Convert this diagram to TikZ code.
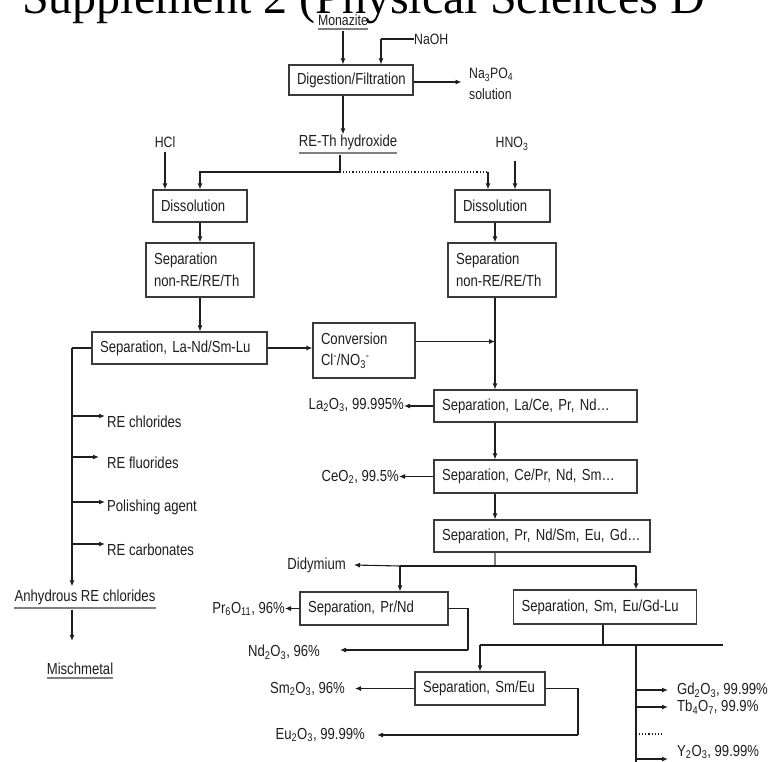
\documentclass[tikz,border=0pt]{standalone}
\usepackage{fontspec}
\setmainfont[FakeStretch=0.82]{Liberation Sans}
\newfontfamily\titlefont{Liberation Serif}
\usetikzlibrary{arrows.meta,calc}
\definecolor{ink}{HTML}{1E1E1E}
\definecolor{boxline}{HTML}{3A3A3A}
\begin{document}
\begin{tikzpicture}[x=1pt,y=-1pt,
  box/.style={draw=boxline, line width=1.1pt, fill=white, inner xsep=8pt, inner ysep=0pt,
    align=left, font=\fontsize{16}{21.5}\selectfont, text=ink, minimum height=33pt},
  lbl/.style={inner sep=0pt, font=\fontsize{16}{21.5}\selectfont, text=ink},
  sml/.style={inner sep=0pt, font=\fontsize{15}{21}\selectfont, text=ink},
  flow/.style={draw=ink, line width=1.1pt, -{Latex[length=6pt,width=5pt]}},
  bold flow/.style={flow, line width=2pt},
  link/.style={draw=ink, line width=1.1pt},
  ul/.style={draw=gray, line width=2pt}]
\useasboundingbox[fill=white] (0,0) rectangle (768,762);

% title (cut off at the top)
\node[anchor=base west, inner sep=0pt, font=\titlefont\fontsize{48}{50}\selectfont] (title) at (22,14) {Supplement 2 (Physical Sciences D};

% boxes
\node[box, text width=108pt, minimum height=30pt] (dig) at (351,80) {Digestion/Filtration};
\node[box, text width=78pt, minimum height=32pt] (dissL) at (200,206) {Dissolution};
\node[box, text width=79pt, minimum height=32pt] (dissR) at (502.5,206) {Dissolution};
\node[box, text width=92pt, minimum height=54pt] (sepL) at (200,270) {Separation\\non-RE/RE/Th};
\node[box, text width=92pt, minimum height=54pt] (sepR) at (502,270) {Separation\\non-RE/RE/Th};
\node[box, text width=159pt, minimum height=32pt] (lanl) at (179.5,348) {Separation, La-Nd/Sm-Lu};
\node[box, text width=86pt, minimum height=55pt] (conv) at (364,350.5) {Conversion\\Cl\textsuperscript{-}/NO\textsubscript{3}\textsuperscript{-}};
\node[box, text width=187pt, minimum height=32pt] (lace) at (535.5,406) {Separation, La/Ce, Pr, Nd\dots};
\node[box, text width=187pt] (cepr) at (535.5,476.5) {Separation, Ce/Pr, Nd, Sm\dots};
\node[box, text width=200pt, minimum height=32pt] (prnd) at (542,536) {Separation, Pr, Nd/Sm, Eu, Gd\dots};
\node[box, text width=132pt] (prndsep) at (374,608.5) {Separation, Pr/Nd};
\node[box, text width=167pt, minimum height=34pt] (smeu) at (605,607) {Separation, Sm, Eu/Gd-Lu};
\node[box, text width=114pt] (smeusep) at (480,688.5) {Separation, Sm/Eu};

% labels
\node[sml] (mon) at (343,20) {Monazite};
\node[sml, anchor=west] (naoh) at (414,39) {NaOH};
\node[sml, anchor=west, align=left] (na3) at (469,84) {Na\textsubscript{3}PO\textsubscript{4}\\solution};
\node[lbl] (hyd) at (348,142) {RE-Th hydroxide};
\node[sml] (hcl) at (165,142) {HCl};
\node[sml] (hno) at (512,144) {HNO\textsubscript{3}};
\node[lbl, anchor=east] (la) at (404,405) {La\textsubscript{2}O\textsubscript{3}, 99.995\%};
\node[lbl, anchor=east] (ce) at (399,477) {CeO\textsubscript{2}, 99.5\%};
\node[lbl, anchor=east] (did) at (346,565) {Didymium};
\node[lbl, anchor=east] (pr) at (285,609) {Pr\textsubscript{6}O\textsubscript{11}, 96\%};
\node[lbl, anchor=east] (nd) at (320,652) {Nd\textsubscript{2}O\textsubscript{3}, 96\%};
\node[lbl, anchor=east] (sm) at (345,689) {Sm\textsubscript{2}O\textsubscript{3}, 96\%};
\node[lbl, anchor=east] (eu) at (365,735) {Eu\textsubscript{2}O\textsubscript{3}, 99.99\%};
\node[lbl, anchor=west] (gd) at (677,690) {Gd\textsubscript{2}O\textsubscript{3}, 99.99\%};
\node[lbl, anchor=west] (tb) at (677,707) {Tb\textsubscript{4}O\textsubscript{7}, 99.9\%};
\node[lbl, anchor=west] (yo) at (677,752) {Y\textsubscript{2}O\textsubscript{3}, 99.99\%};
\node[lbl, anchor=west] (rcl) at (107,422) {RE chlorides};
\node[lbl, anchor=west] (rfl) at (107,463) {RE fluorides};
\node[lbl, anchor=west] (pol) at (107,507) {Polishing agent};
\node[lbl, anchor=west] (rca) at (107,550) {RE carbonates};
\node[lbl] (anh) at (85,597) {Anhydrous RE chlorides};
\node[lbl] (mis) at (80,669) {Mischmetal};

% underlines
\draw[ul] ([yshift=-3pt]mon.south west) -- ([yshift=-3pt]mon.south east);
\draw[ul] ([yshift=-3pt]hyd.south west) -- ([yshift=-3pt]hyd.south east);
\draw[ul] ([yshift=-3pt]anh.south west) -- ([yshift=-3pt]anh.south east);
\draw[ul, line width=1.2pt] ([yshift=-3pt]mis.south west) -- ([yshift=-3pt]mis.south east);

% coordinates
\coordinate (rc) at (495,0);
\coordinate (naj) at (381,39);
\coordinate (j) at (340,172);
\coordinate (dj) at (488,172);
\coordinate (hnoa) at (515,161);
\coordinate (hb) at (495,566);
\coordinate (didj) at (400,566);
\coordinate (smj) at (636,566);
\coordinate (ndc) at (468,650);
\coordinate (sj) at (603,645);
\coordinate (smj2) at (480,645);
\coordinate (rend) at (723,645);
\coordinate (euc) at (578,735);
\coordinate (vt) at (636,645);
\coordinate (vb) at (636,766);
\coordinate (dotl) at (636,734);
\coordinate (dotr) at (662,734);
\coordinate (lb) at (72,348);

% connectors, top
\draw[flow] ([yshift=-5pt]mon.south) -- (mon.south |- dig.north);
\draw[link] (naoh.west) -- (naj);
\draw[flow] (naj) -- (naj |- dig.north);
\draw[bold flow] ($(dig.east)+(0,2)$) -- ($(dig.east)+(48,2)$);
\draw[flow] (mon.south |- dig.south) -- (mon.south |- hyd.north);
\draw[link] ([yshift=-5pt]hyd.south -| j) -- (j);
\draw[flow] (j) -| (dissL.north);
\draw[link, dotted] (j) -- (dj);
\draw[flow] (dj) -- (dj |- dissR.north);
\draw[flow] ([yshift=-4pt]hcl.south) -- (hcl.south |- dissL.north);
\draw[flow] (hnoa) -- (hnoa |- dissR.north);

% dissolution / separation columns
\draw[flow] (dissL.south) -- (dissL.south |- sepL.north);
\draw[flow] (rc |- dissR.south) -- (rc |- sepR.north);
\draw[flow] (sepL.south) -- (sepL.south |- lanl.north);
\draw[flow] (lanl.east) -- (conv.west |- lanl.east);
\draw[flow] (rc |- sepR.south) -- (rc |- lace.north);
\draw[flow] ($(conv.east)+(0,-9)$) -- ($(rc |- conv.east)+(0,-9)$);

% right column
\draw[flow] (lace.west) -- (la.east |- lace.west);
\draw[flow] (rc |- lace.south) -- (rc |- cepr.north);
\draw[flow] (cepr.west) -- (ce.east |- cepr.west);
\draw[flow] (rc |- cepr.south) -- (rc |- prnd.north);
\draw[link, draw=gray] (rc |- prnd.south) -- (hb);
\draw[link] (didj) -- (smj);
\draw[flow] (didj) -- ($(did.east)+(8,0)$);
\draw[flow] (didj) -- (didj |- prndsep.north);
\draw[flow] (smj) -- (smj |- smeu.north);
\draw[flow] (prndsep.west) -- (pr.east |- prndsep.west);
\draw[link] (prndsep.east) -| (ndc);
\draw[flow] (ndc) -- ($(nd.east |- ndc)+(20,0)$);
\draw[link] (sj |- smeu.south) -- (sj);
\draw[link] (smj2) -- (rend);
\draw[flow] (smj2) -- (smj2 |- smeusep.north);
\draw[flow] (smeusep.west) -- ($(sm.east |- smeusep.west)+(10,0)$);
\draw[link] (smeusep.east) -| (euc);
\draw[flow] (euc) -- ($(eu.east |- euc)+(12,0)$);
\draw[link] (vt) -- (vb);
\draw[bold flow] (vt |- gd.west) -- ($(gd.west)+(-9,0)$);
\draw[bold flow] (vt |- tb.west) -- ($(tb.west)+(-9,0)$);
\draw[link, dotted] (dotl) -- (dotr);
\draw[bold flow] ($(vt |- yo.west)+(0,7)$) -- ($(yo.west)+(-9,7)$);

% left branch
\draw[link] (lanl.west) -- (lb);
\draw[flow] (lb) -- ($(lb |- anh.north)+(0,-3)$);
\draw[bold flow] ($(lb |- rcl.west)+(0,-6)$) -- ($(rcl.west)+(-2,-6)$);
\draw[bold flow] ($(lb |- rfl.west)+(0,-6)$) -- ($(rfl.west)+(-8,-6)$);
\draw[bold flow] ($(lb |- pol.west)+(0,-5)$) -- ($(pol.west)+(-2,-5)$);
\draw[bold flow] ($(lb |- rca.west)+(0,-6)$) -- ($(rca.west)+(-2,-6)$);
\draw[flow] ([yshift=-5pt]anh.south -| lb) -- ($(lb |- mis.north)+(0,-22)$);
\end{tikzpicture}
\end{document}
